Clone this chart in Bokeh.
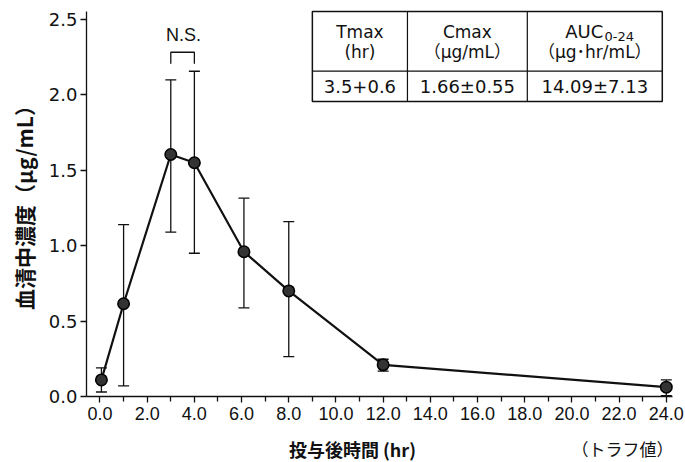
from bokeh.plotting import figure
from bokeh.layouts import column
from bokeh.models import (Range1d, FixedTicker, NumeralTickFormatter, Whisker, TeeHead,
                          ColumnDataSource, Label)
from bokeh.core.properties import value
from bokeh.embed import file_html
from bokeh.resources import INLINE

# ---- data ----
hours = [0.06, 1.0, 3.0, 4.0, 6.1, 8.0, 12.0, 24.0]
conc = [0.11, 0.615, 1.605, 1.55, 0.96, 0.70, 0.21, 0.062]
upper = [0.19, 1.14, 2.10, 2.157, 1.315, 1.16, 0.247, 0.11]
lower = [0.03, 0.07, 1.09, 0.95, 0.588, 0.265, 0.168, 0.005]

x_ticks = [0, 2, 4, 6, 8, 10, 12, 14, 16, 18, 20, 22, 24]
x_minor = [1, 3, 5, 7, 9, 11, 13, 15, 17, 19, 21, 23]
y_ticks = [0.0, 0.5, 1.0, 1.5, 2.0, 2.5]

table_headers = [("Tmax", "(hr)"), ("Cmax", "（μg/mL）"), ("AUC", "（μg･hr/mL）")]
auc_sub = "0-24"
table_values = ["3.5+0.6", "1.66±0.55", "14.09±7.13"]

x_title = "投与後時間 (hr)"
y_title = "血清中濃度（μg/mL）"
trough_note = "（トラフ値）"
ns_text = "N.S."

XFONT = "Liberation Sans, Noto Sans CJK JP"
YFONT = "DejaVu Sans, Noto Sans CJK JP"
TFONT = "DejaVu Sans, Noto Sans CJK JP"
JFONT = "Noto Sans CJK JP"
INK = "#111111"

xr = Range1d(-0.572, 24.39)
p = figure(width=685, height=430, output_backend="svg", toolbar_location=None,
           x_range=xr, y_range=Range1d(0, 2.573))
p.min_border_left = 86
p.min_border_right = 10
p.min_border_top = 8
p.min_border_bottom = 34
p.outline_line_color = None
p.xgrid.visible = False
p.ygrid.visible = False

for ax in (p.xaxis[0], p.yaxis[0]):
    ax.axis_line_color = INK
    ax.axis_line_width = 1.3
    ax.major_tick_line_color = INK
    ax.minor_tick_line_color = INK
    ax.major_tick_line_width = 1.3
    ax.minor_tick_line_width = 1.3
    ax.major_tick_in = 0
    ax.major_tick_out = 6
    ax.minor_tick_in = 0
    ax.minor_tick_out = 5
    ax.major_label_text_color = INK
    ax.formatter = NumeralTickFormatter(format="0.0")

p.xaxis[0].ticker = FixedTicker(ticks=x_ticks, minor_ticks=x_minor)
p.xaxis[0].bounds = (-0.572, 24.26)
p.xaxis[0].major_label_text_font = XFONT
p.xaxis[0].major_label_text_font_size = "18px"
p.xaxis[0].major_label_standoff = 4
p.yaxis[0].ticker = FixedTicker(ticks=y_ticks, minor_ticks=[])
p.yaxis[0].bounds = (0, 2.55)
p.yaxis[0].major_label_text_font = YFONT
p.yaxis[0].major_label_text_font_size = "18px"
p.yaxis[0].major_label_standoff = 3
p.yaxis[0].axis_label = y_title
p.yaxis[0].axis_label_text_font = JFONT
p.yaxis[0].axis_label_text_font_size = "21px"
p.yaxis[0].axis_label_text_font_style = "bold"
p.yaxis[0].axis_label_text_color = INK
p.yaxis[0].axis_label_standoff = 7

src = ColumnDataSource(dict(x=hours, y=conc, upper=upper, lower=lower))

p.add_layout(Whisker(source=src, base="x", upper="upper", lower="lower",
                     line_color=INK, line_width=1.3,
                     upper_head=TeeHead(size=11, line_color=INK, line_width=1.3),
                     lower_head=TeeHead(size=11, line_color=INK, line_width=1.3)))
p.line("x", "y", source=src, line_color=INK, line_width=2.2)
p.scatter("x", "y", source=src, size=11.5, fill_color="#333333", line_color="#000000",
          line_width=1.5)

# N.S. bracket between 3 h and 4 h
p.line([hours[2], hours[2], hours[3], hours[3]], [2.206, 2.283, 2.283, 2.206],
       line_color=INK, line_width=1.3)
p.add_layout(Label(x=3.54, y=2.395, text=ns_text, text_align="center",
                   text_baseline="middle", text_font=XFONT, text_font_size="18px",
                   text_color=INK))

# table
tx = [9.0, 13.03, 18.11, 23.83]
ty_top, ty_mid, ty_bot = 2.553, 2.158, 1.957
p.quad(left=tx[0], right=tx[3], bottom=ty_bot, top=ty_top, fill_color=None,
       line_color=INK, line_width=1.5)
p.segment(x0=[tx[0], tx[1], tx[2]], y0=[ty_mid, ty_bot, ty_bot],
          x1=[tx[3], tx[1], tx[2]], y1=[ty_mid, ty_top, ty_top],
          line_color=INK, line_width=1.2)
centers = [(tx[i] + tx[i + 1]) / 2 for i in range(3)]
HS = "17px"
VS = "18px"
for i, (h1, h2) in enumerate(table_headers):
    cx = centers[i]
    if i == 2:
        p.add_layout(Label(x=19.72, y=2.42, text=h1, text_align="left",
                           text_baseline="middle", text_font=TFONT, text_font_size="18px",
                           text_color=INK))
        p.add_layout(Label(x=21.38, y=2.39, text=auc_sub, text_align="left",
                           text_baseline="middle", text_font=TFONT, text_font_size="13px",
                           text_color=INK))
    else:
        p.add_layout(Label(x=cx, y=2.42, text=h1, text_align="center", text_baseline="middle",
                           text_font=TFONT, text_font_size=HS, text_color=INK))
    p.add_layout(Label(x=cx, y=2.285, text=h2, text_align="center", text_baseline="middle",
                       text_font=TFONT, text_font_size=HS, text_color=INK))
    p.add_layout(Label(x=cx, y=2.056, text=table_values[i], text_align="center",
                       text_baseline="middle", text_font=TFONT, text_font_size=VS,
                       text_color=INK))

# strip below the plot carrying the x title and trough note (shares the x range)
p2 = figure(width=685, height=32, output_backend="svg", toolbar_location=None,
            x_range=xr, y_range=Range1d(0, 32),
            x_axis_type=None, y_axis_type=None)
p2.min_border_left = 86
p2.min_border_right = 10
p2.min_border_top = 0
p2.min_border_bottom = 0
p2.outline_line_color = None
p2.xgrid.visible = False
p2.ygrid.visible = False
p2.text(x=[10.7], y=[14], text=[x_title], text_align="center", text_baseline="middle",
        text_font=value(JFONT), text_font_size="18px", text_font_style="bold",
        text_color=INK)
p2.text(x=[22.14], y=[14], text=[trough_note], text_align="center", text_baseline="middle",
        text_font=value(JFONT), text_font_size="17px", text_color=INK)

open("out.html", "w").write(file_html(column(p, p2, spacing=0), INLINE))
